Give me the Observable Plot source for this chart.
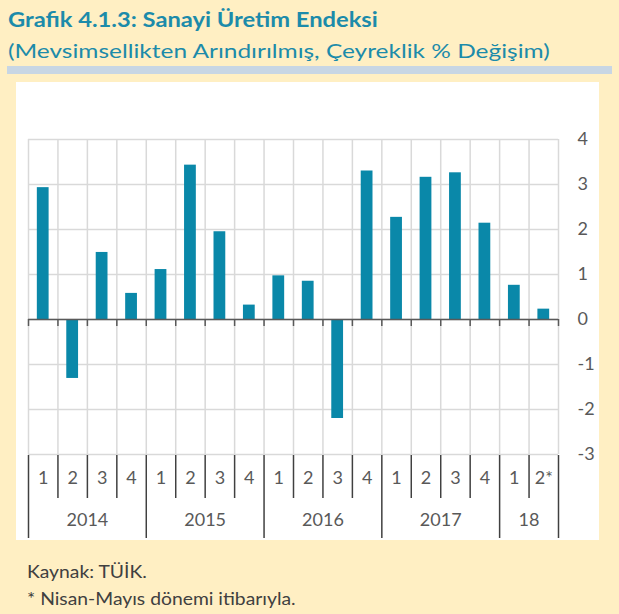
<!DOCTYPE html>
<html><head><meta charset="utf-8">
<script src="https://cdn.jsdelivr.net/npm/d3@7"></script>
<script src="https://cdn.jsdelivr.net/npm/@observablehq/plot@0.6"></script>
<style>
html,body{margin:0;padding:0;}
body{background:#FFEFC3;width:619px;height:614px;overflow:hidden;position:relative;font-family:Lato,"Open Sans",sans-serif;}
#title{position:absolute;left:8px;top:9px;font-size:20.5px;line-height:1;font-weight:bold;color:#1C8BAA;white-space:nowrap;transform:scaleX(1.156);transform-origin:0 0;}
#subtitle{position:absolute;left:8px;top:41px;font-size:19px;line-height:1;color:#1C8BAA;white-space:nowrap;transform:scaleX(1.287);transform-origin:0 0;}
#band{position:absolute;left:7px;top:66px;width:605px;height:8px;background:#C8D6E4;}
#panel{position:absolute;left:16px;top:82px;width:583px;height:458px;background:#fff;}
#chart{position:absolute;left:0;top:0;}
.cap{position:absolute;left:27px;font-size:16.5px;line-height:1;color:#404040;white-space:nowrap;transform:scaleX(1.17);transform-origin:0 0;}
</style>
</head><body>
<div id="title">Grafik 4.1.3: Sanayi Üretim Endeksi</div>
<div id="subtitle">(Mevsimsellikten Arındırılmış, Çeyreklik % Değişim)</div>
<div id="band"></div>
<div id="panel"></div>
<div id="chart"></div>
<div class="cap" style="top:564px">Kaynak: TÜİK.</div>
<div class="cap" style="top:591px">* Nisan-Mayıs dönemi itibarıyla.</div>
<script>
const quarters = ["1","2","3","4","1","2","3","4","1","2","3","4","1","2","3","4","1","2*"];
const values = [2.93,-1.31,1.49,0.58,1.11,3.43,1.95,0.32,0.97,0.85,-2.2,3.30,2.27,3.16,3.26,2.14,0.76,0.23];
const years = ["2014","2015","2016","2017","18"];
const yearQuarterCounts = [4,4,4,4,2];
const yTicks = [-3,-2,-1,0,1,2,3,4];

const rows = quarters.map((q, i) => ({i, q, v: values[i]}));
const yearRows = [];
let start = 0;
years.forEach((y, k) => { yearRows.push({label: y, start, end: start + yearQuarterCounts[k]}); start += yearQuarterCounts[k]; });
const bounds = d3.range(quarters.length + 1);
const yearBounds = [0, ...yearRows.map(d => d.end)];
const quarterBounds = bounds.filter(b => !yearBounds.includes(b));

const chart = Plot.plot({
  width: 619,
  height: 560,
  marginLeft: 28,
  marginRight: 61,
  marginTop: 139,
  marginBottom: 106,
  style: {background: "transparent", fontFamily: "Lato, 'Open Sans', sans-serif", overflow: "visible"},
  x: {type: "linear", domain: [0, quarters.length], axis: null},
  y: {domain: [-3, 4], axis: null},
  marks: [
    Plot.ruleY(yTicks, {stroke: "#d9d9d9", strokeWidth: 1.5}),
    Plot.ruleX(bounds, {stroke: "#d9d9d9", strokeWidth: 1.5}),
    Plot.rect(rows, {x1: d => d.i + 0.3, x2: d => d.i + 0.7, y1: () => 0, y2: "v", fill: "#0A88A9"}),
    Plot.ruleY([0], {stroke: "#595959", strokeWidth: 1.5}),
    Plot.ruleX(bounds, {y1: () => 0, y2: () => 0, insetBottom: -7, stroke: "#595959", strokeWidth: 1.5}),
    Plot.ruleX(quarterBounds, {y1: () => -3, y2: () => -3, insetTop: 1, insetBottom: -44, stroke: "#404040", strokeWidth: 1.5}),
    Plot.ruleX(yearBounds, {y1: () => -3, y2: () => -3, insetTop: 1, insetBottom: -84, stroke: "#404040", strokeWidth: 1.5}),
    Plot.text(rows, {x: d => d.i + 0.5, text: "q", frameAnchor: "bottom", dy: 29, fontSize: 18, fill: "#595959"}),
    Plot.text(yearRows, {x: d => (d.start + d.end) / 2, text: "label", frameAnchor: "bottom", dy: 71, fontSize: 18, fill: "#595959"}),
    Plot.axisY(yTicks, {anchor: "right", label: null, tickSize: 0, tickPadding: 19, fontSize: 18, fill: "#595959", textAnchor: "start", tickFormat: d => String(d)})
  ]
});
document.getElementById("chart").appendChild(chart);
</script>
</body></html>
